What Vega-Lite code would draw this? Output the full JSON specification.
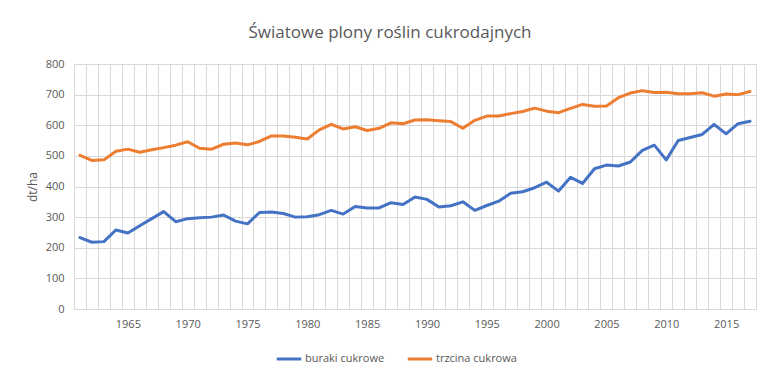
{
  "$schema": "https://vega.github.io/schema/vega-lite/v6.json",
  "width": 682,
  "height": 245,
  "autosize": {"type": "none"},
  "padding": {"left": 74, "top": 64, "right": 27, "bottom": 75},
  "background": "white",
  "title": {
    "text": "Światowe plony roślin cukrodajnych",
    "font": "Open Sans",
    "fontSize": 17,
    "fontWeight": "normal",
    "color": "#595959",
    "anchor": "middle",
    "dx": -25,
    "offset": 16
  },
  "config": {
    "view": {"stroke": null},
    "font": "Open Sans",
    "axis": {
      "labelColor": "#595959",
      "labelFont": "Open Sans",
      "labelFontSize": 11,
      "titleColor": "#595959",
      "titleFont": "Open Sans",
      "titleFontWeight": "normal",
      "titleFontSize": 12,
      "gridColor": "#d9d9d9",
      "gridWidth": 1,
      "gridOpacity": 1,
      "ticks": false
    }
  },
  "data": {
    "values": [
      {"year": 1961, "buraki": 233, "trzcina": 502},
      {"year": 1962, "buraki": 218, "trzcina": 485},
      {"year": 1963, "buraki": 220, "trzcina": 487},
      {"year": 1964, "buraki": 258, "trzcina": 515},
      {"year": 1965, "buraki": 248, "trzcina": 522},
      {"year": 1966, "buraki": 272, "trzcina": 512},
      {"year": 1967, "buraki": 295, "trzcina": 520},
      {"year": 1968, "buraki": 318, "trzcina": 527},
      {"year": 1969, "buraki": 285, "trzcina": 535},
      {"year": 1970, "buraki": 295, "trzcina": 546},
      {"year": 1971, "buraki": 298, "trzcina": 525},
      {"year": 1972, "buraki": 300, "trzcina": 522},
      {"year": 1973, "buraki": 307, "trzcina": 538},
      {"year": 1974, "buraki": 287, "trzcina": 542},
      {"year": 1975, "buraki": 278, "trzcina": 536},
      {"year": 1976, "buraki": 315, "trzcina": 547},
      {"year": 1977, "buraki": 317, "trzcina": 565},
      {"year": 1978, "buraki": 312, "trzcina": 565},
      {"year": 1979, "buraki": 300, "trzcina": 561},
      {"year": 1980, "buraki": 301, "trzcina": 555},
      {"year": 1981, "buraki": 308, "trzcina": 585},
      {"year": 1982, "buraki": 322, "trzcina": 603},
      {"year": 1983, "buraki": 310, "trzcina": 588},
      {"year": 1984, "buraki": 335, "trzcina": 595},
      {"year": 1985, "buraki": 330, "trzcina": 583},
      {"year": 1986, "buraki": 330, "trzcina": 590},
      {"year": 1987, "buraki": 347, "trzcina": 608},
      {"year": 1988, "buraki": 341, "trzcina": 605},
      {"year": 1989, "buraki": 366, "trzcina": 617},
      {"year": 1990, "buraki": 358, "trzcina": 618},
      {"year": 1991, "buraki": 333, "trzcina": 615},
      {"year": 1992, "buraki": 337, "trzcina": 612},
      {"year": 1993, "buraki": 350, "trzcina": 590},
      {"year": 1994, "buraki": 322, "trzcina": 616},
      {"year": 1995, "buraki": 338, "trzcina": 630},
      {"year": 1996, "buraki": 352, "trzcina": 630},
      {"year": 1997, "buraki": 378, "trzcina": 638},
      {"year": 1998, "buraki": 383, "trzcina": 645},
      {"year": 1999, "buraki": 396, "trzcina": 656},
      {"year": 2000, "buraki": 414, "trzcina": 646},
      {"year": 2001, "buraki": 385, "trzcina": 641},
      {"year": 2002, "buraki": 430, "trzcina": 655},
      {"year": 2003, "buraki": 410, "trzcina": 668},
      {"year": 2004, "buraki": 458, "trzcina": 662},
      {"year": 2005, "buraki": 470, "trzcina": 663},
      {"year": 2006, "buraki": 467, "trzcina": 690},
      {"year": 2007, "buraki": 480, "trzcina": 705},
      {"year": 2008, "buraki": 518, "trzcina": 713},
      {"year": 2009, "buraki": 535, "trzcina": 707},
      {"year": 2010, "buraki": 487, "trzcina": 708},
      {"year": 2011, "buraki": 550, "trzcina": 703},
      {"year": 2012, "buraki": 560, "trzcina": 703},
      {"year": 2013, "buraki": 570, "trzcina": 706},
      {"year": 2014, "buraki": 603, "trzcina": 695},
      {"year": 2015, "buraki": 572, "trzcina": 702},
      {"year": 2016, "buraki": 605, "trzcina": 700},
      {"year": 2017, "buraki": 613, "trzcina": 710}
    ]
  },
  "transform": [
    {"fold": ["buraki", "trzcina"], "as": ["key", "value"]},
    {"calculate": "datum.key === 'buraki' ? 'buraki cukrowe' : 'trzcina cukrowa'", "as": "series"}
  ],
  "mark": {"type": "line", "strokeWidth": 3, "strokeCap": "round", "strokeJoin": "round"},
  "encoding": {
    "x": {
      "field": "year",
      "type": "ordinal",
      "scale": {"type": "band", "paddingInner": 0, "paddingOuter": 0},
      "axis": {
        "title": null,
        "labelAngle": 0,
        "tickBand": "extent",
        "grid": true,
        "domain": true,
        "domainColor": "#d9d9d9",
        "labelPadding": 9,
        "labelExpr": "datum.value % 5 === 0 ? datum.label : ''"
      }
    },
    "y": {
      "field": "value",
      "type": "quantitative",
      "scale": {"domain": [0, 800], "nice": false},
      "axis": {
        "title": "dt/ha",
        "values": [0, 100, 200, 300, 400, 500, 600, 700, 800],
        "domain": false,
        "labelPadding": 10,
        "titlePadding": 6
      }
    },
    "color": {
      "field": "series",
      "type": "nominal",
      "scale": {"domain": ["buraki cukrowe", "trzcina cukrowa"], "range": ["#4472C4", "#ED7D31"]},
      "legend": {
        "title": null,
        "orient": "none",
        "direction": "horizontal",
        "legendX": 201,
        "legendY": 281,
        "symbolType": "stroke",
        "symbolStrokeWidth": 3,
        "symbolSize": 600,
        "labelColor": "#595959",
        "labelFont": "Open Sans",
        "labelFontSize": 11,
        "labelOffset": 2,
        "columnPadding": 16
      }
    }
  }
}
